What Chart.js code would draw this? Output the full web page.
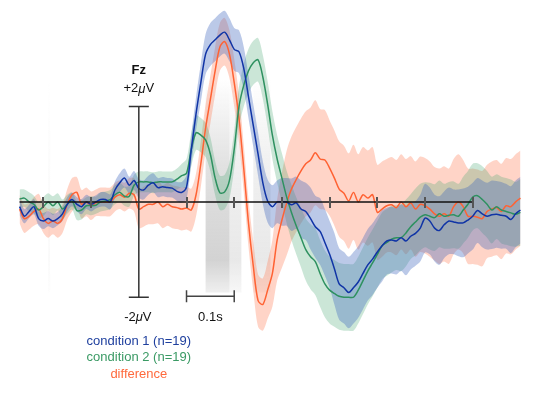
<!DOCTYPE html>
<html>
<head>
<meta charset="utf-8">
<script src="https://cdn.jsdelivr.net/npm/chart.js@4.4.1/dist/chart.umd.min.js"></script>
<style>
  html, body { margin: 0; padding: 0; background: #ffffff; }
  #erp { display: block; }
</style>
</head>
<body>
<canvas id="erp" width="540" height="395"></canvas>
<script>
// sample times (ms)
const times = [
  -250, -240, -230, -220, -210, -200, -190, -180, -170, -160,
  -150, -140, -130, -120, -110, -100, -90, -80, -70, -60,
  -50, -40, -30, -20, -10, 0, 10, 20, 30, 40,
  50, 60, 70, 80, 90, 100, 110, 120, 130, 140,
  150, 160, 170, 180, 190, 200, 210, 220, 230, 240,
  250, 260, 270, 280, 290, 300, 310, 320, 330, 340,
  350, 360, 370, 380, 390, 400, 410, 420, 430, 440,
  450, 460, 470, 480, 490, 500, 510, 520, 530, 540,
  550, 560, 570, 580, 590, 600, 610, 620, 630, 640,
  650, 660, 670, 680, 690, 700, 710, 720, 730, 740,
  750, 760, 770, 780, 790, 800
];

// condition 1 grand average (uV)
const cond1 = [
  -0.1, -0.3, -0.2, -0.1, -0.35, -0.4, -0.35, -0.4, -0.35, -0.25,
  -0.05, 0.05, -0.05, -0.1, 0.0, -0.05, 0.0, 0.05, 0.05, 0.0,
  0.25, 0.4, 0.5, 0.35, 0.45, 0.28, 0.25, 0.35, 0.4, 0.3,
  0.32, 0.3, 0.29, 0.22, 0.2, 0.31, 1.1, 1.85, 2.5, 3.1,
  3.3, 3.4, 3.5, 3.56, 3.4, 3.2, 3.15, 2.8, 2.2, 1.6,
  1.0, 0.4, 0.02, -0.1, 0.0, 0.0, 0.0, -0.06, -0.02, -0.15,
  -0.2, -0.35, -0.52, -0.62, -0.85, -1.1, -1.4, -1.72, -1.8, -1.9,
  -1.8, -1.68, -1.5, -1.32, -1.2, -1.05, -0.92, -0.82, -0.8, -0.82,
  -0.75, -0.82, -0.72, -0.66, -0.55, -0.34, -0.4, -0.55, -0.6, -0.48,
  -0.4, -0.42, -0.44, -0.44, -0.38, -0.3, -0.18, -0.25, -0.3, -0.27,
  -0.26, -0.28, -0.3, -0.37, -0.25, -0.17
];
const cond1Sem = [
  0.18, 0.15, 0.14, 0.16, 0.15, 0.17, 0.16, 0.15, 0.14, 0.15,
  0.15, 0.14, 0.15, 0.16, 0.15, 0.15, 0.14, 0.15, 0.15, 0.16,
  0.18, 0.2, 0.2, 0.18, 0.2, 0.2, 0.2, 0.2, 0.2, 0.2,
  0.2, 0.2, 0.2, 0.2, 0.22, 0.25, 0.3, 0.35, 0.4, 0.42,
  0.45, 0.45, 0.45, 0.45, 0.45, 0.45, 0.45, 0.45, 0.45, 0.45,
  0.45, 0.45, 0.45, 0.45, 0.45, 0.5, 0.5, 0.55, 0.55, 0.6,
  0.6, 0.65, 0.65, 0.7, 0.7, 0.7, 0.75, 0.75, 0.75, 0.75,
  0.75, 0.75, 0.75, 0.75, 0.75, 0.75, 0.75, 0.7, 0.7, 0.7,
  0.7, 0.72, 0.7, 0.68, 0.7, 0.72, 0.7, 0.7, 0.72, 0.7,
  0.7, 0.68, 0.7, 0.72, 0.7, 0.7, 0.68, 0.7, 0.7, 0.72,
  0.7, 0.7, 0.68, 0.7, 0.7, 0.7
];

// condition 2 grand average (uV)
const cond2 = [
  0.06, 0.08, 0.0, -0.05, -0.17, -0.1, 0.0, -0.08, 0.0, -0.15,
  -0.05, 0.02, -0.18, -0.17, -0.08, -0.08, -0.07, 0.0, 0.02, 0.05,
  0.15, 0.2, 0.12, 0.12, 0.35, 0.42, 0.42, 0.42, 0.4, 0.42,
  0.42, 0.42, 0.42, 0.48, 0.55, 0.6, 1.1, 1.45, 1.4, 1.3,
  1.0, 0.5, 0.19, 0.21, 0.45, 1.1, 2.0, 2.45, 2.75, 2.92,
  2.98, 2.62, 2.05, 1.4, 0.9, 0.5, 0.1, -0.22, -0.5, -0.75,
  -1.0, -1.15, -1.25, -1.5, -1.72, -1.85, -1.92, -1.98, -2.0, -2.0,
  -2.0, -1.85, -1.65, -1.45, -1.28, -1.1, -0.92, -0.85, -0.78, -0.75,
  -0.75, -0.65, -0.52, -0.42, -0.32, -0.27, -0.3, -0.33, -0.25, -0.3,
  -0.28, -0.27, -0.3, -0.17, -0.05, 0.1, 0.13, 0.05, -0.05, -0.17,
  -0.1, -0.17, -0.2, -0.23, -0.26, -0.22
];
const cond2Sem = [
  0.2, 0.18, 0.2, 0.18, 0.17, 0.2, 0.18, 0.2, 0.18, 0.2,
  0.2, 0.18, 0.2, 0.2, 0.18, 0.2, 0.18, 0.2, 0.2, 0.2,
  0.2, 0.2, 0.2, 0.22, 0.22, 0.22, 0.22, 0.22, 0.22, 0.22,
  0.22, 0.22, 0.22, 0.22, 0.25, 0.3, 0.35, 0.36, 0.36, 0.36,
  0.36, 0.36, 0.36, 0.36, 0.38, 0.4, 0.42, 0.45, 0.46, 0.46,
  0.46, 0.46, 0.48, 0.5, 0.5, 0.52, 0.55, 0.58, 0.6, 0.62,
  0.65, 0.68, 0.7, 0.7, 0.7, 0.7, 0.7, 0.7, 0.7, 0.7,
  0.7, 0.7, 0.7, 0.7, 0.7, 0.7, 0.7, 0.7, 0.7, 0.68,
  0.7, 0.7, 0.68, 0.7, 0.7, 0.68, 0.7, 0.7, 0.7, 0.68,
  0.7, 0.7, 0.68, 0.7, 0.7, 0.7, 0.68, 0.7, 0.7, 0.7,
  0.68, 0.7, 0.7, 0.7, 0.68, 0.7
];

// difference wave (uV)
const diff = [
  -0.15, -0.35, -0.3, -0.2, -0.15, -0.35, -0.45, -0.4, -0.45, -0.35,
  -0.05, 0.15, 0.2, -0.05, 0.0, -0.08, -0.02, 0.0, 0.0, 0.0,
  0.1, 0.15, 0.1, 0.18, 0.15, -0.15, -0.1, -0.05, -0.05, 0.0,
  -0.1, -0.05, -0.1, -0.12, -0.15, -0.13, -0.17, 0.15, 0.8, 1.55,
  2.15, 2.75, 3.25, 3.36, 3.1, 2.5, 1.75, 0.7, -0.45, -1.35,
  -2.07, -2.15, -1.85, -1.5, -0.8, -0.38, -0.02, 0.27, 0.47, 0.65,
  0.8, 0.88, 1.03, 0.9, 0.88, 0.71, 0.5, 0.27, 0.18, 0.02,
  0.2, 0.0, 0.15, 0.08, 0.15, -0.22, -0.15, -0.08, -0.06, -0.12,
  0.0, -0.1, -0.02, -0.15, -0.05, -0.08, -0.15, -0.25, -0.3, -0.25,
  -0.3, -0.1, 0.0, -0.1, -0.3, -0.3, -0.32, -0.35, -0.2, -0.15,
  -0.12, -0.2, -0.08, -0.1, 0.0, 0.08
];
const diffSem = [
  0.3, 0.3, 0.28, 0.3, 0.32, 0.3, 0.3, 0.28, 0.3, 0.3,
  0.32, 0.35, 0.32, 0.3, 0.3, 0.3, 0.28, 0.3, 0.3, 0.3,
  0.3, 0.3, 0.3, 0.32, 0.35, 0.4, 0.42, 0.42, 0.42, 0.45,
  0.45, 0.45, 0.45, 0.45, 0.45, 0.45, 0.45, 0.45, 0.48, 0.5,
  0.5, 0.5, 0.5, 0.5, 0.5, 0.5, 0.5, 0.5, 0.5, 0.52,
  0.55, 0.55, 0.6, 0.7, 0.85, 1.0, 1.1, 1.1, 1.1, 1.1,
  1.1, 1.1, 1.1, 1.05, 1.05, 1.0, 1.0, 1.0, 1.0, 1.0,
  1.0, 1.0, 1.0, 1.0, 1.0, 1.0, 1.0, 0.98, 1.0, 1.0,
  1.0, 1.0, 0.98, 1.0, 1.0, 1.0, 1.0, 0.98, 1.0, 1.0,
  1.0, 1.0, 1.0, 0.98, 1.0, 1.0, 1.0, 1.0, 0.98, 1.0,
  1.0, 1.0, 1.0, 1.0, 1.0, 1.0
];

// significant time windows (ms) and their strength
const sigStart = [-190, 140, 190, 240];
const sigEnd = [-186, 190, 215, 276];
const sigWeight = [0.12, 1.0, 0.5, 0.5];

// scale bar / axis labels
const axisTicks = [-200, -100, 100, 200, 300, 400, 500, 600, 700];
const legendLabels = ['condition 1 (n=19)', 'condition 2 (n=19)', 'difference'];

const BLUE = '#1034a6';
const GREEN = '#2e9160';
const ORANGE = '#ff6233';
const FONT = '"Liberation Sans", Arial, Helvetica, sans-serif';

function pts(values) {
  return times.map((t, i) => ({ x: t, y: values[i] }));
}
function band(values, sem, sign) {
  return times.map((t, i) => ({ x: t, y: values[i] + sign * sem[i] }));
}

function bandSet(values, sem, color) {
  return [
    {
      data: band(values, sem, 1),
      borderWidth: 0,
      pointRadius: 0,
      fill: '+1',
      backgroundColor: color,
      tension: 0.3,
      order: 5
    },
    {
      data: band(values, sem, -1),
      borderWidth: 0,
      pointRadius: 0,
      fill: false,
      tension: 0.3,
      order: 5
    }
  ];
}

function lineSet(values, color) {
  return {
    data: pts(values),
    borderColor: color,
    borderWidth: 1.5,
    pointRadius: 0,
    fill: false,
    tension: 0.3,
    order: 1
  };
}

// gray significance windows behind the waves
const sigPlugin = {
  id: 'sigWindows',
  beforeDatasetsDraw(chart) {
    const { ctx, scales: { x, y } } = chart;
    const top = y.getPixelForValue(2.6);
    const bottom = y.getPixelForValue(-1.9);
    ctx.save();
    sigStart.forEach((s, i) => {
      const x0 = x.getPixelForValue(s);
      const x1 = x.getPixelForValue(sigEnd[i]);
      const w = sigWeight[i];
      const g = ctx.createLinearGradient(0, top, 0, bottom);
      g.addColorStop(0, 'rgba(150,150,150,0)');
      g.addColorStop(0.4, `rgba(150,150,150,${0.28 * w})`);
      g.addColorStop(0.85, `rgba(150,150,150,${0.42 * w})`);
      g.addColorStop(1, `rgba(150,150,150,${0.15 * w})`);
      ctx.fillStyle = g;
      ctx.fillRect(x0, top, x1 - x0, bottom - top);
    });
    ctx.restore();
  }
};

function drawMuLabel(ctx, cx, cy, prefix) {
  const normal = `13px ${FONT}`;
  const italic = `italic 13px ${FONT}`;
  ctx.font = normal;
  const w1 = ctx.measureText(prefix).width;
  const w3 = ctx.measureText('V').width;
  ctx.font = italic;
  const w2 = ctx.measureText('\u03bc').width;
  let left = cx - (w1 + w2 + w3) / 2;
  ctx.textAlign = 'left';
  ctx.font = normal;
  ctx.fillText(prefix, left, cy);
  left += w1;
  ctx.font = italic;
  ctx.fillText('\u03bc', left, cy);
  left += w2;
  ctx.font = normal;
  ctx.fillText('V', left, cy);
}

// axes, scale bars and text drawn on top
const axesPlugin = {
  id: 'erpAxes',
  afterDatasetsDraw(chart) {
    const { ctx, scales: { x, y } } = chart;
    const y0 = y.getPixelForValue(0);
    const x0 = x.getPixelForValue(0);
    ctx.save();

    // time axis
    ctx.strokeStyle = '#111';
    ctx.lineWidth = 1.5;
    ctx.beginPath();
    ctx.moveTo(x.getPixelForValue(-250), y0);
    ctx.lineTo(x.getPixelForValue(700), y0);
    ctx.stroke();
    ctx.strokeStyle = '#555';
    ctx.lineWidth = 2;
    axisTicks.forEach((t) => {
      const px = Math.round(x.getPixelForValue(t));
      ctx.beginPath();
      ctx.moveTo(px, y0 - 5);
      ctx.lineTo(px, y0 + 6);
      ctx.stroke();
    });

    // amplitude axis
    const yTop = y.getPixelForValue(2);
    const yBot = y.getPixelForValue(-2);
    ctx.strokeStyle = '#333';
    ctx.lineWidth = 1.5;
    ctx.beginPath();
    ctx.moveTo(x0, yTop);
    ctx.lineTo(x0, yBot);
    ctx.moveTo(x0 - 10, yTop);
    ctx.lineTo(x0 + 10, yTop);
    ctx.moveTo(x0 - 10, yBot);
    ctx.lineTo(x0 + 10, yBot);
    ctx.stroke();

    // 0.1 s scale bar
    const sb0 = x.getPixelForValue(100);
    const sb1 = x.getPixelForValue(200);
    const sby = y.getPixelForValue(-1.98);
    ctx.strokeStyle = '#444';
    ctx.beginPath();
    ctx.moveTo(sb0, sby);
    ctx.lineTo(sb1, sby);
    ctx.moveTo(sb0, sby - 6);
    ctx.lineTo(sb0, sby + 6);
    ctx.moveTo(sb1, sby - 6);
    ctx.lineTo(sb1, sby + 6);
    ctx.stroke();

    // labels
    ctx.fillStyle = '#111';
    ctx.textBaseline = 'middle';
    ctx.textAlign = 'center';
    ctx.font = `bold 13px ${FONT}`;
    ctx.fillText('Fz', x0, y.getPixelForValue(2.75));
    drawMuLabel(ctx, x0, y.getPixelForValue(2.37), '+2');
    drawMuLabel(ctx, x0 - 1, y.getPixelForValue(-2.43), '-2');
    ctx.textAlign = 'center';
    ctx.font = `13px ${FONT}`;
    ctx.fillText('0.1s', x.getPixelForValue(150), y.getPixelForValue(-2.43));

    // legend
    const legendColors = ['#1e3f9e', '#3a9a64', '#ff6a3d'];
    const legendY = [-2.92, -3.27, -3.62];
    legendLabels.forEach((label, i) => {
      ctx.fillStyle = legendColors[i];
      ctx.fillText(label, x0, y.getPixelForValue(legendY[i]));
    });
    ctx.restore();
  }
};

const ctx = document.getElementById('erp').getContext('2d');
new Chart(ctx, {
  type: 'line',
  data: {
    datasets: [
      ...bandSet(cond1, cond1Sem, 'rgba(60,100,190,0.35)'),
      ...bandSet(cond2, cond2Sem, 'rgba(70,165,110,0.28)'),
      ...bandSet(diff, diffSem, 'rgba(255,120,80,0.32)'),
      lineSet(cond1, BLUE),
      lineSet(cond2, GREEN),
      lineSet(diff, ORANGE)
    ]
  },
  options: {
    responsive: false,
    animation: false,
    devicePixelRatio: 1,
    layout: { padding: 0 },
    scales: {
      x: { type: 'linear', min: -291, max: 841, display: false },
      y: { min: -4.05, max: 4.235, display: false }
    },
    plugins: {
      legend: { display: false },
      tooltip: { enabled: false }
    }
  },
  plugins: [sigPlugin, axesPlugin]
});
</script>
</body>
</html>
